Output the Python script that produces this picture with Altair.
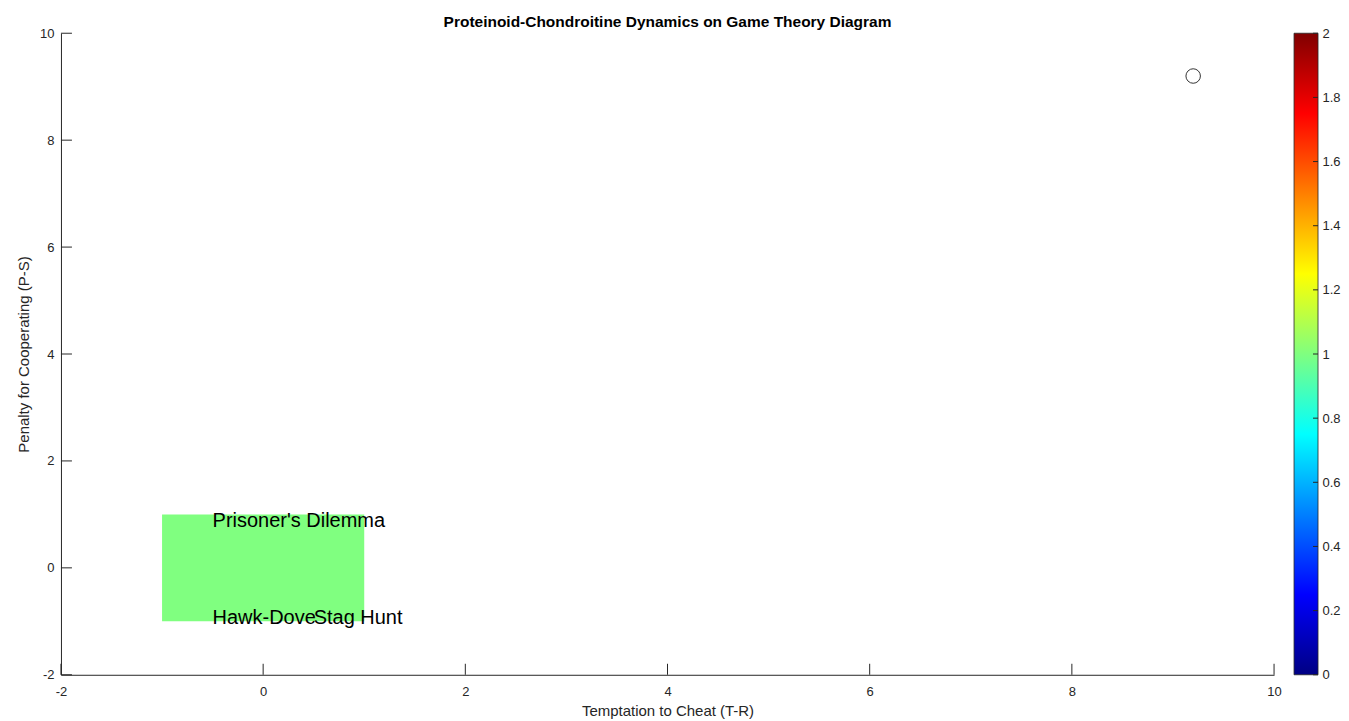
import altair as alt
import pandas as pd

# ---- data ----
x_ticks = [-2, 0, 2, 4, 6, 8, 10]
y_ticks = [-2, 0, 2, 4, 6, 8, 10]
cbar_ticks = [0, 0.2, 0.4, 0.6, 0.8, 1, 1.2, 1.4, 1.6, 1.8, 2]

region_x = [-1]
region_x2 = [1]
region_y = [-1]
region_y2 = [1]

label_text = ["Prisoner's Dilemma", "Hawk-Dove", "Stag Hunt"]
label_x = [-0.5, -0.5, 0.5]
label_y = [0.88, -0.93, -0.93]

point_x = [9.2]
point_y = [9.2]

cbar_lo = [0]
cbar_hi = [2]

# ---- layout / style ----
W, H = 1214, 642
FONT = "Liberation Sans"
AX = "#262626"

region_df = pd.DataFrame({"x0": region_x, "x1": region_x2, "y0": region_y, "y1": region_y2})
label_df = pd.DataFrame({"label": label_text, "x": label_x, "y": label_y})
point_df = pd.DataFrame({"x": point_x, "y": point_y})
xt_df = pd.DataFrame({"t": x_ticks})
yt_df = pd.DataFrame({"t": y_ticks})
ct_df = pd.DataFrame({"t": cbar_ticks})
cbar_df = pd.DataFrame({"lo": cbar_lo, "hi": cbar_hi})

xscale = alt.Scale(domain=[-2, 10], nice=False, zero=False)
yscale = alt.Scale(domain=[-2, 10], nice=False, zero=False)
cscale = alt.Scale(domain=[0, 2], nice=False, zero=False)

LBL = "toString(datum.value)"

axis_common = dict(
    grid=False, tickSize=0, domainColor=AX, domainWidth=1,
    labelFont=FONT, labelFontSize=13, labelColor=AX, labelFlush=False,
    titleFont=FONT, titleFontSize=15, titleColor=AX, titleFontWeight="normal",
    labelExpr=LBL,
)
x_axis = alt.Axis(values=x_ticks, title="Temptation to Cheat (T-R)",
                  labelPadding=11, titlePadding=5, **axis_common)
y_axis = alt.Axis(values=y_ticks, title="Penalty for Cooperating (P-S)",
                  labelPadding=7, titlePadding=8, **axis_common)
c_axis = alt.Axis(orient="right", offset=44, values=cbar_ticks, tickSize=0,
                  domain=False, grid=False, title=None, labelPadding=4, labelFlush=False,
                  labelFont=FONT, labelFontSize=13, labelColor=AX, labelExpr=LBL)

rect = alt.Chart(region_df).mark_rect(color="#80FF80").encode(
    x=alt.X("x0:Q", scale=xscale, axis=x_axis),
    x2="x1:Q",
    y=alt.Y("y0:Q", scale=yscale, axis=y_axis),
    y2="y1:Q",
)

texts = alt.Chart(label_df).mark_text(
    align="left", baseline="middle", fontSize=20, font=FONT, color="black"
).encode(
    x=alt.X("x:Q", scale=xscale, axis=x_axis),
    y=alt.Y("y:Q", scale=yscale, axis=y_axis),
    text="label:N",
)

pt = alt.Chart(point_df).mark_point(
    shape="circle", filled=False, size=210, color="#333333", strokeWidth=1, opacity=1
).encode(
    x=alt.X("x:Q", scale=xscale, axis=x_axis),
    y=alt.Y("y:Q", scale=yscale, axis=y_axis),
)

xticks = alt.Chart(xt_df).mark_rule(color=AX, strokeWidth=1).encode(
    x=alt.X("t:Q", scale=xscale, axis=x_axis),
    y=alt.value(H), y2=alt.value(H - 11),
)
yticks = alt.Chart(yt_df).mark_rule(color=AX, strokeWidth=1).encode(
    y=alt.Y("t:Q", scale=yscale, axis=y_axis),
    x=alt.value(0), x2=alt.value(11),
)

main = alt.layer(rect, texts, pt, xticks, yticks)

jet = alt.Gradient(
    gradient="linear",
    stops=[
        alt.GradientStop(offset=0.0, color="#000083"),
        alt.GradientStop(offset=0.125, color="#0000FF"),
        alt.GradientStop(offset=0.375, color="#00FFFF"),
        alt.GradientStop(offset=0.625, color="#FFFF00"),
        alt.GradientStop(offset=0.875, color="#FF0000"),
        alt.GradientStop(offset=1.0, color="#800000"),
    ],
    x1=0, x2=0, y1=1, y2=0,
)

cbar = alt.Chart(cbar_df).mark_rect(fill=jet, stroke=AX, strokeWidth=0.8).encode(
    x=alt.value(W + 20), x2=alt.value(W + 44),
    y=alt.Y("lo:Q", scale=cscale, axis=c_axis),
    y2="hi:Q",
)
cticks = alt.Chart(ct_df).mark_rule(color=AX, strokeWidth=1).encode(
    y=alt.Y("t:Q", scale=cscale, axis=c_axis),
    x=alt.value(W + 39), x2=alt.value(W + 44),
)
colorbar = alt.layer(cbar, cticks)

chart = alt.layer(main, colorbar).resolve_scale(y="independent").properties(
    width=W, height=H,
    title=alt.Title("Proteinoid-Chondroitine Dynamics on Game Theory Diagram",
                    font=FONT, fontSize=15.5, fontWeight="bold", color="black",
                    anchor="middle", offset=-3.5),
    padding={"left": 8, "top": 7, "right": 0, "bottom": 0},
).configure_view(stroke=None)

chart.save("out.html", embed_options={"renderer": "svg", "actions": False})
